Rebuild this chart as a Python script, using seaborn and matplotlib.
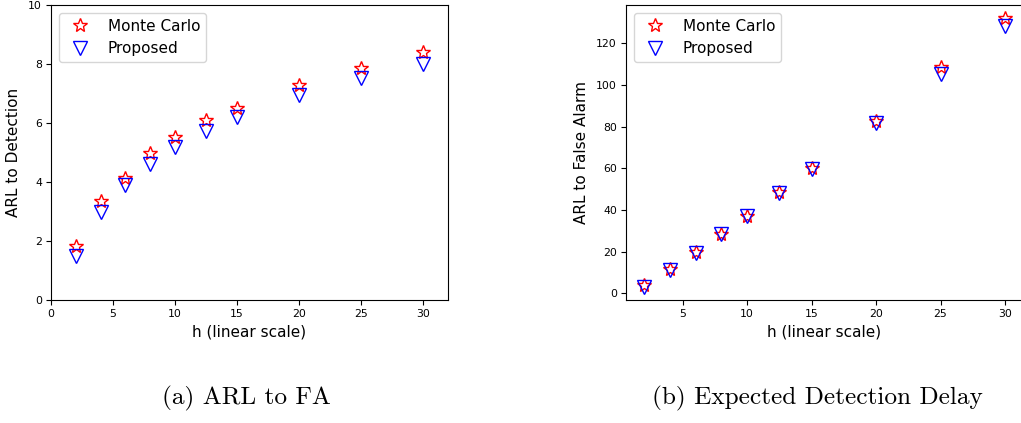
import numpy as np
import pandas as pd
import matplotlib
matplotlib.use("Agg")
import matplotlib.pyplot as plt
import seaborn as sns

sns.set_style("ticks")
plt.rcParams['font.family'] = ['DejaVu Sans']
plt.rcParams['axes.unicode_minus'] = False
for k in ["text.color", "axes.labelcolor", "xtick.color", "ytick.color", "axes.edgecolor"]:
    plt.rcParams[k] = "black"

h = [2, 4, 6, 8, 10, 12.5, 15, 20, 25, 30]
det_mc = [1.84, 3.34, 4.15, 4.99, 5.51, 6.10, 6.52, 7.28, 7.85, 8.39]
det_prop = [1.49, 2.97, 3.91, 4.62, 5.17, 5.74, 6.21, 6.94, 7.53, 8.00]
fa_mc = [4.0, 11.6, 20.0, 28.6, 37.4, 48.5, 60.1, 82.8, 108.9, 132.0]
fa_prop = [3.3, 11.3, 19.6, 28.4, 37.0, 48.2, 59.5, 82.0, 105.2, 128.3]
series_labels = ["Monte Carlo", "Proposed"]
xlabel = "h (linear scale)"
ylabels = ["ARL to Detection", "ARL to False Alarm"]
captions = ["(a) ARL to FA", "(b) Expected Detection Delay"]

fig = plt.figure(figsize=(10.21, 4.23), dpi=100)
W, H = 1021, 423
ax1 = fig.add_axes([51 / W, 1 - 300 / H, 397 / W, 295 / H])
ax2 = fig.add_axes([626 / W, 1 - 300 / H, 397 / W, 295 / H])

for ax, mc, pr, yl in [(ax1, det_mc, det_prop, ylabels[0]), (ax2, fa_mc, fa_prop, ylabels[1])]:
    df = pd.DataFrame({"h": h, "mc": mc, "pr": pr})
    sns.lineplot(data=df, x="h", y="mc", ax=ax, linestyle="", marker="*",
                 markersize=10.5, markerfacecolor="none", markeredgecolor="red",
                 markeredgewidth=1.0, color="red", label=series_labels[0])
    sns.lineplot(data=df, x="h", y="pr", ax=ax, linestyle="", marker="v",
                 markersize=10, markerfacecolor="none", markeredgecolor="blue",
                 markeredgewidth=1.0, color="blue", label=series_labels[1])
    ax.set_xlabel(xlabel, fontsize=11, labelpad=4)
    ax.set_ylabel(yl, fontsize=11, labelpad=5)
    ax.tick_params(labelsize=7.8, length=3.5, width=0.8, pad=3, direction="out")
    for s in ax.spines.values():
        s.set_linewidth(0.8)
        s.set_color("black")
    ax.legend(loc="upper left", fontsize=11, numpoints=1, frameon=True,
              framealpha=0.8, edgecolor="#cccccc", fancybox=True,
              borderpad=0.4, labelspacing=0.5, handlelength=2.0,
              handletextpad=0.8, borderaxespad=0.5)

ax2.spines["right"].set_visible(False)
ax1.set_xlim(0, 32)
ax1.set_ylim(0, 10)
ax1.set_xticks([0, 5, 10, 15, 20, 25, 30])
ax2.set_xlim(0.6, 31.4)
ax2.set_xticks([5, 10, 15, 20, 25, 30])
ax2.set_yticks([0, 20, 40, 60, 80, 100, 120])

fig.text(246 / W, 1 - 398 / H, captions[0], family="cmr10", fontsize=18.2,
         ha="center", va="center", color="black")
fig.text(817 / W, 1 - 398 / H, captions[1], family="cmr10", fontsize=18.2,
         ha="center", va="center", color="black")

fig.savefig("out.png", dpi=100)
